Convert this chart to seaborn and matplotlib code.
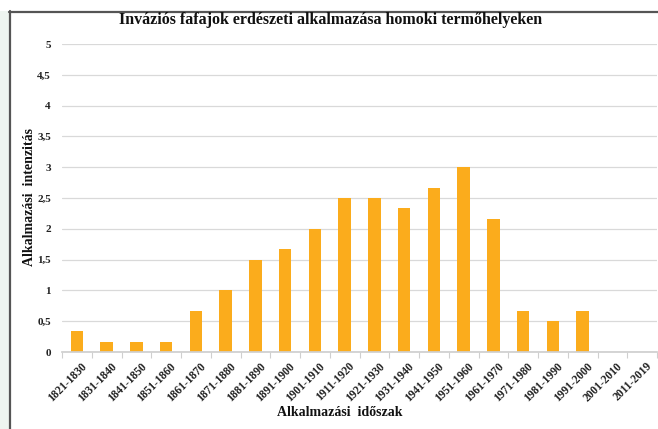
import matplotlib
matplotlib.use("Agg")
import matplotlib.pyplot as plt
import matplotlib.patches as mpatches
import matplotlib.lines as mlines
import matplotlib.transforms as mtransforms
import seaborn as sns
import pandas as pd
import numpy as np

periods = ["1821-1830", "1831-1840", "1841-1850", "1851-1860", "1861-1870",
           "1871-1880", "1881-1890", "1891-1900", "1901-1910", "1911-1920",
           "1921-1930", "1931-1940", "1941-1950", "1951-1960", "1961-1970",
           "1971-1980", "1981-1990", "1991-2000", "2001-2010", "2011-2019"]
intensity = [0.333, 0.167, 0.167, 0.167, 0.667, 1.0, 1.5, 1.667, 2.0, 2.5,
             2.5, 2.333, 2.667, 3.0, 2.167, 0.667, 0.5, 0.667, 0.0, 0.0]
ytick_vals = [0, 0.5, 1, 1.5, 2, 2.5, 3, 3.5, 4, 4.5, 5]
ytick_labels = ["0", "0,5", "1", "1,5", "2", "2,5", "3", "3,5", "4", "4,5", "5"]

title = "Inváziós fafajok erdészeti alkalmazása homoki termőhelyeken"
xlabel = "Alkalmazási  időszak"
ylabel = "Alkalmazási  intenzitás"

sns.set_theme(style="white")
plt.rcParams['font.family'] = ['Liberation Serif', 'DejaVu Serif']

df = pd.DataFrame({"period": periods, "value": intensity})

W, H = 658, 429
fig = plt.figure(figsize=(W / 100, H / 100), dpi=100)
fig.patch.set_facecolor("white")

# left pale strip and frame lines
fig.patches.append(mpatches.Rectangle((0, 0), 9 / W, 1 - 11 / H, transform=fig.transFigure,
                                      facecolor="#eef5f0", edgecolor="none", zorder=0))
fig.lines.append(mlines.Line2D([9.5 / W, 9.5 / W], [0, 1 - 11 / H], transform=fig.transFigure,
                               color="#555555", lw=1.6))
fig.lines.append(mlines.Line2D([9 / W, 1], [1 - 11.5 / H, 1 - 11.5 / H], transform=fig.transFigure,
                               color="#555555", lw=1.6))

ax = fig.add_axes([62 / W, 1 - 352 / H, (657 - 62) / W, (352 - 44) / H])
sns.barplot(data=df, x="period", y="value", color="#FBAC1C", saturation=1,
            width=0.42, ax=ax)
for p in ax.patches:
    p.set_edgecolor("none")

ax.set_ylim(0, 5)
ax.set_xlim(-0.5, len(periods) - 0.5)
ax.set_yticks(ytick_vals)
ax.set_yticklabels(ytick_labels, fontsize=8, fontweight="bold", color="#222222")
ax.yaxis.grid(True, color="#d9d9d9", lw=0.9)
ax.set_axisbelow(True)
for s in ["top", "right", "left"]:
    ax.spines[s].set_visible(False)
ax.spines["bottom"].set_color("#cfcfcf")
ax.tick_params(axis="y", length=0, pad=8)

ax.set_xticks(range(len(periods)))
ax.set_xticklabels(periods, rotation=45, ha="right", rotation_mode="anchor",
                   fontsize=8.3, fontweight="bold", color="#222222")
ax.tick_params(axis="x", which="major", length=0, pad=6)
shift = mtransforms.ScaledTranslation(4 / 100, 0, fig.dpi_scale_trans)
for lab in ax.get_xticklabels():
    lab.set_transform(lab.get_transform() + shift)
ax.set_xticks(np.arange(-0.5, len(periods), 1.0), minor=True)
ax.tick_params(axis="x", which="minor", length=4, color="#cfcfcf", width=0.8, direction="out")
ax.xaxis.set_tick_params(which="minor", bottom=True)

ax.set_xlabel("")
ax.set_ylabel("")
fig.text(340 / W, 1 - 413 / H, xlabel, ha="center", va="center",
         fontsize=10, fontweight="bold", color="#111111")
fig.text(30 / W, 1 - 197 / H, ylabel, ha="center", va="center", rotation=90,
         fontsize=10, fontweight="bold", color="#111111")
fig.text(331 / W, 1 - 20.5 / H, title, ha="center", va="center",
         fontsize=11.5, fontweight="bold", color="#111111")

fig.savefig("out.png", dpi=100, facecolor="white")
